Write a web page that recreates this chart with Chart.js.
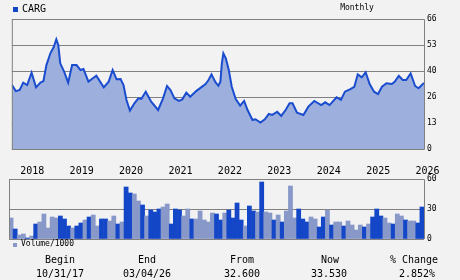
<!DOCTYPE html>
<html>
<head>
<meta charset="utf-8">
<script src="https://cdn.jsdelivr.net/npm/chart.js@4.4.1/dist/chart.umd.min.js"></script>
<style>
  body { margin: 0; background: #f2f2f2; }
  #wrap { position: relative; width: 460px; height: 280px; font-family: "DejaVu Sans Mono", monospace; color: #000; }
  canvas { position: absolute; left: 0; }
  .t { position: absolute; white-space: nowrap; line-height: 1; }
  .c { transform: translateX(-50%); }
  .sq { position: absolute; }
</style>
</head>
<body>
<div id="wrap">
  <canvas id="priceChart" width="460" height="180" style="top:0"></canvas>
  <canvas id="volChart" width="460" height="80" style="top:170px"></canvas>

  <div class="sq" style="left:13px;top:7px;width:5px;height:5px;background:#1446c8"></div>
  <div class="t" style="left:22px;top:4px;font-size:10px">CARG</div>
  <div class="t c" style="left:357px;top:4px;font-size:8px">Monthly</div>

  <div class="sq" style="left:13px;top:243px;width:4px;height:4px;background:#8898c8"></div>
  <div class="t" style="left:21px;top:240px;font-size:8px">Volume/1000</div>

  <div id="table"></div>
</div>
<script>
// closing prices, x in decimal years
const priceYears = [
  2017.83, 2017.91, 2017.99, 2018.06, 2018.14, 2018.23, 2018.32, 2018.41, 2018.47, 2018.53,
  2018.61, 2018.68, 2018.73, 2018.77, 2018.81, 2018.89, 2018.97, 2019.05, 2019.14, 2019.22,
  2019.28, 2019.38, 2019.47, 2019.54, 2019.69, 2019.79, 2019.87, 2019.95, 2020.03, 2020.09,
  2020.15, 2020.22, 2020.31, 2020.39, 2020.45, 2020.54, 2020.65, 2020.79, 2020.89, 2020.97,
  2021.04, 2021.12, 2021.21, 2021.28, 2021.36, 2021.44, 2021.56, 2021.66, 2021.75, 2021.81,
  2021.87, 2021.95, 2022.01, 2022.05, 2022.08, 2022.11, 2022.16, 2022.22, 2022.28, 2022.36,
  2022.45, 2022.53, 2022.60, 2022.70, 2022.76, 2022.86, 2022.95, 2023.03, 2023.10, 2023.20,
  2023.28, 2023.37, 2023.45, 2023.51, 2023.60, 2023.73, 2023.83, 2023.95, 2024.09, 2024.17,
  2024.26, 2024.40, 2024.49, 2024.57, 2024.67, 2024.76, 2024.83, 2024.91, 2024.99, 2025.07,
  2025.16, 2025.24, 2025.32, 2025.41, 2025.52, 2025.58, 2025.66, 2025.74, 2025.81, 2025.90,
  2025.99, 2026.06, 2026.17
];
const priceValues = [
  32.6, 29.4, 30.0, 33.7, 32.5, 38.7, 31.3, 33.7, 34.5, 42.6,
  48.6, 51.9, 55.7, 52.8, 43.5, 39.2, 33.7, 42.6, 42.6, 40.1,
  40.6, 34.2, 35.9, 37.2, 31.3, 34.2, 40.1, 35.4, 35.5, 32.5,
  24.9, 19.5, 23.2, 25.7, 25.4, 29.1, 24.0, 19.8, 25.7, 32.0,
  29.9, 25.7, 24.4, 25.2, 28.6, 26.5, 29.4, 31.3, 33.0, 35.0,
  37.9, 33.9, 32.1, 34.2, 43.5, 48.6, 46.0, 40.1, 31.6, 25.4,
  22.0, 24.4, 19.8, 14.7, 15.1, 13.4, 15.1, 17.8, 17.3, 18.9,
  16.8, 19.8, 23.2, 23.2, 18.4, 17.3, 21.5, 24.4, 22.3, 23.7,
  22.3, 26.2, 24.9, 29.1, 30.3, 31.6, 37.9, 36.4, 38.9, 33.0,
  29.1, 27.9, 31.6, 33.4, 33.0, 34.2, 37.1, 35.0, 35.0, 38.4,
  32.0, 30.8, 33.53
];

// monthly volume (thousands), Nov 2017 .. Mar 2026
const volumeValues = [
  21, 10, 4, 5, 1, 3, 15, 17, 25, 11, 22, 21, 23, 20, 13, 11, 13, 16, 19, 22,
  24, 13, 20, 20, 18, 23, 15, 17, 52, 46, 45, 38, 34, 23, 29, 27, 30, 32, 35, 15,
  30, 29, 23, 30, 20, 20, 28, 19, 17, 26, 25, 19, 26, 29, 21, 36, 19, 13, 33, 28,
  27, 57, 27, 26, 19, 24, 17, 28, 53, 21, 30, 20, 17, 22, 20, 12, 22, 29, 14, 17,
  17, 13, 18, 14, 9, 14, 12, 15, 22, 30, 23, 21, 16, 15, 25, 23, 19, 18, 18, 16,
  32
];
// 1 = price closed up that month
const volumeUp = [
  0, 1, 0, 0, 1, 0, 1, 0, 0, 0, 0, 0, 1, 1, 1, 0, 1, 1, 0, 1,
  0, 0, 1, 1, 0, 0, 1, 0, 1, 1, 0, 0, 1, 0, 1, 1, 1, 0, 0, 1,
  1, 1, 0, 0, 1, 0, 0, 0, 0, 0, 1, 1, 0, 1, 1, 1, 1, 0, 1, 1,
  0, 1, 0, 0, 1, 0, 1, 0, 0, 0, 1, 1, 1, 0, 0, 1, 1, 0, 1, 0,
  0, 1, 0, 0, 0, 0, 1, 0, 1, 1, 1, 0, 0, 1, 0, 0, 1, 0, 0, 1,
  1
];

const yearTicks = [2018, 2019, 2020, 2021, 2022, 2023, 2024, 2025, 2026];
const priceTicks = [0, 13.2, 26.4, 39.6, 52.8, 66];
const volumeTicks = [0, 30, 60];

const tableHeads = ['Begin', 'End', 'From', 'Now', '% Change'];
const tableValues = ['10/31/17', '03/04/26', '32.600', '33.530', '2.852%'];
const headCenters = [60, 147, 242, 330, 414];
const valueCenters = [60, 147, 242, 329, 417];

const GRID = '#808080';
const DARK = '#1446c8';
const LIGHT = '#8898c8';

Chart.defaults.font.family = '"DejaVu Sans Mono", monospace';
Chart.defaults.color = '#000';

// gray frame round the plot area
const frame = {
  id: 'frame',
  afterDraw(chart, args, opts) {
    const { ctx, chartArea: a } = chart;
    ctx.save();
    ctx.strokeStyle = GRID;
    ctx.lineWidth = 1;
    ctx.beginPath();
    ctx.moveTo(a.left + 0.5, a.bottom + 0.5);
    ctx.lineTo(a.left + 0.5, a.top + 0.5);
    ctx.lineTo(a.right + 0.5, a.top + 0.5);
    ctx.lineTo(a.right + 0.5, opts.bottom ? a.bottom + 0.5 : a.bottom);
    if (opts.bottom) ctx.lineTo(a.left + 0.5, a.bottom + 0.5);
    ctx.stroke();
    ctx.restore();
  }
};

new Chart(document.getElementById('priceChart'), {
  type: 'line',
  data: {
    datasets: [{
      data: priceYears.map((x, i) => ({ x: x, y: priceValues[i] })),
      borderColor: '#1a4ccf',
      borderWidth: 2,
      backgroundColor: '#9db0dd',
      fill: 'origin',
      pointRadius: 0,
      tension: 0
    }]
  },
  options: {
    responsive: false,
    animation: false,
    devicePixelRatio: 1,
    layout: { padding: { left: 9, top: 19, right: 6, bottom: 0 } },
    plugins: { legend: { display: false }, tooltip: { enabled: false }, frame: { bottom: true } },
    scales: {
      x: {
        type: 'linear',
        min: 2017.83,
        max: 2026.17,
        afterBuildTicks: (scale) => { scale.ticks = yearTicks.map(v => ({ value: v })); },
        afterFit: (scale) => { scale.height = 31; },
        grid: { display: false },
        border: { display: false },
        ticks: {
          autoSkip: false,
          maxRotation: 0,
          padding: 8,
          labelOffset: 12,
          font: { size: 10 },
          callback: (v) => String(v)
        }
      },
      y: {
        position: 'right',
        min: 0,
        max: 66,
        afterBuildTicks: (scale) => { scale.ticks = priceTicks.map(v => ({ value: v })); },
        afterFit: (scale) => { scale.width = 30; },
        grid: { color: GRID, drawTicks: false },
        border: { display: false },
        ticks: { padding: 3, font: { size: 8 }, callback: (v) => String(Math.round(v)) }
      }
    }
  },
  plugins: [frame]
});

new Chart(document.getElementById('volChart'), {
  type: 'bar',
  data: {
    labels: volumeValues.map((v, i) => i),
    datasets: [{
      data: volumeValues,
      backgroundColor: volumeUp.map(u => u ? DARK : LIGHT),
      barPercentage: 1,
      categoryPercentage: 1
    }]
  },
  options: {
    responsive: false,
    animation: false,
    devicePixelRatio: 1,
    layout: { padding: { left: 9, top: 9, right: 6, bottom: 11 } },
    plugins: { legend: { display: false }, tooltip: { enabled: false }, frame: { bottom: false } },
    scales: {
      x: { display: false },
      y: {
        position: 'right',
        min: 0,
        max: 60,
        afterBuildTicks: (scale) => { scale.ticks = volumeTicks.map(v => ({ value: v })); },
        afterFit: (scale) => { scale.width = 30; },
        grid: { color: GRID, drawTicks: false },
        border: { display: false },
        ticks: { padding: 3, font: { size: 8 } }
      }
    }
  },
  plugins: [frame]
});

const table = document.getElementById('table');
tableHeads.forEach((h, i) => {
  const d = document.createElement('div');
  d.className = 't c';
  d.style.cssText = 'left:' + headCenters[i] + 'px;top:255px;font-size:10px';
  d.textContent = h;
  table.appendChild(d);
  const v = document.createElement('div');
  v.className = 't c';
  v.style.cssText = 'left:' + valueCenters[i] + 'px;top:269px;font-size:10px';
  v.textContent = tableValues[i];
  table.appendChild(v);
});
</script>
</body>
</html>
